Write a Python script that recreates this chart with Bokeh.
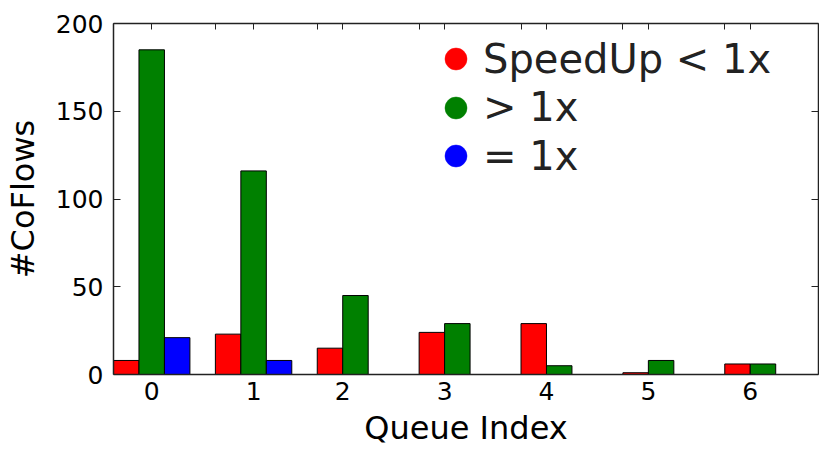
from bokeh.plotting import figure
from bokeh.models import (Range1d, FixedTicker, LinearAxis, Legend, LegendItem,
                          ColumnDataSource)
from bokeh.transform import dodge
from bokeh.embed import file_html
from bokeh.resources import INLINE

# ---- data -------------------------------------------------------------
queues = [0, 1, 2, 3, 4, 5, 6]
queue_labels = ["0", "1", "2", "3", "4", "5", "6"]
slower = [8, 23, 15, 24, 29, 1, 6]       # SpeedUp < 1x
faster = [185, 116, 45, 29, 5, 8, 6]     # > 1x
equal = [21, 8, 0, 0, 0, 0, 0]           # = 1x
y_ticks = [0, 50, 100, 150, 200]
series_cols = ["slower", "faster", "equal"]
series_names = ["SpeedUp < 1x", "> 1x", "= 1x"]
series_colors = ["#ff0000", "#008000", "#0000ff"]

# ---- style ------------------------------------------------------------
BAR_W = 0.25
FONT = "DejaVu Sans"
AX = "#222222"

p = figure(width=819, height=449, output_backend="svg", toolbar_location=None,
           x_range=Range1d(0, 6.92), y_range=Range1d(0, 200),
           min_border_left=111, min_border_right=1, min_border_top=23,
           min_border_bottom=75)
p.xgrid.grid_line_color = None
p.ygrid.grid_line_color = None
p.outline_line_color = None
p.background_fill_color = "white"
p.border_fill_color = "white"

src = ColumnDataSource(dict(q=queues, slower=slower, faster=faster, equal=equal))
for k, (col, color) in enumerate(zip(series_cols, series_colors)):
    p.vbar(x=dodge("q", BAR_W * (k + 0.5), range=p.x_range), top=col, width=BAR_W,
           source=src, fill_color=color, line_color="black", line_width=1)

# tick label sits in the middle of the bars drawn for each queue
n_bars = [3 if e > 0 else 2 for e in equal]
tick_pos = [q + BAR_W * n / 2 for q, n in zip(queues, n_bars)]

# bottom axis
xa = p.xaxis[0]
xa.ticker = FixedTicker(ticks=tick_pos)
xa.major_label_overrides = {t: lab for t, lab in zip(tick_pos, queue_labels)}
xa.major_tick_in = 0
xa.major_tick_out = 0
xa.minor_tick_in = 0
xa.minor_tick_out = 0
xa.axis_label = "Queue Index"

# left axis
ya = p.yaxis[0]
ya.ticker = FixedTicker(ticks=y_ticks)
ya.major_tick_in = 7
ya.major_tick_out = 0
ya.minor_tick_in = 0
ya.minor_tick_out = 0
ya.axis_label = "#CoFlows"

for ax in (xa, ya):
    ax.axis_line_color = AX
    ax.axis_line_width = 1.5
    ax.major_tick_line_color = AX
    ax.major_tick_line_width = 1
    ax.major_label_text_font = FONT
    ax.major_label_text_font_size = "25px"
    ax.major_label_text_color = "black"
    ax.axis_label_text_font = FONT
    ax.axis_label_text_font_size = "32px"
    ax.axis_label_text_font_style = "normal"
    ax.axis_label_text_color = "black"
xa.major_label_standoff = 7
xa.axis_label_standoff = 6
ya.major_label_standoff = 10
ya.axis_label_standoff = 11

# top and right frame sides with inward ticks
top = LinearAxis(ticker=FixedTicker(ticks=[], minor_ticks=sorted(queues + tick_pos)),
                 major_tick_in=0, major_tick_out=0, minor_tick_in=6, minor_tick_out=0,
                 axis_line_color=AX, axis_line_width=1.5, minor_tick_line_color=AX,
                 minor_tick_line_width=1)
p.add_layout(top, "above")
right = LinearAxis(ticker=FixedTicker(ticks=[], minor_ticks=y_ticks),
                   major_tick_in=0, major_tick_out=0, minor_tick_in=7, minor_tick_out=0,
                   axis_line_color=AX, axis_line_width=1.5, minor_tick_line_color=AX,
                   minor_tick_line_width=1)
p.add_layout(right, "right")

# legend: one row per series, round markers
GLYPH = 55
ROW_PITCH = 48.5
LEG_X = 315
LEG_TOP_Y = 288   # offset of first row's box bottom from the frame bottom
for i, (name, color) in enumerate(zip(series_names, series_colors)):
    dummy = ColumnDataSource(dict(x=[float("nan")], y=[float("nan")]))
    r = p.scatter(x="x", y="y", source=dummy, marker="circle", fill_color=color,
                  line_color=color, line_width=0.5)
    leg = Legend(items=[LegendItem(label=name, renderers=[r])],
                 location=(LEG_X, LEG_TOP_Y - i * ROW_PITCH),
                 glyph_width=GLYPH, glyph_height=GLYPH, label_height=GLYPH,
                 spacing=0, padding=0, margin=0, label_standoff=0,
                 border_line_color=None, background_fill_alpha=0,
                 label_text_font=FONT, label_text_font_size="40px",
                 label_text_color="#222222")
    p.add_layout(leg)

open("out.html", "w").write(file_html(p, INLINE))
